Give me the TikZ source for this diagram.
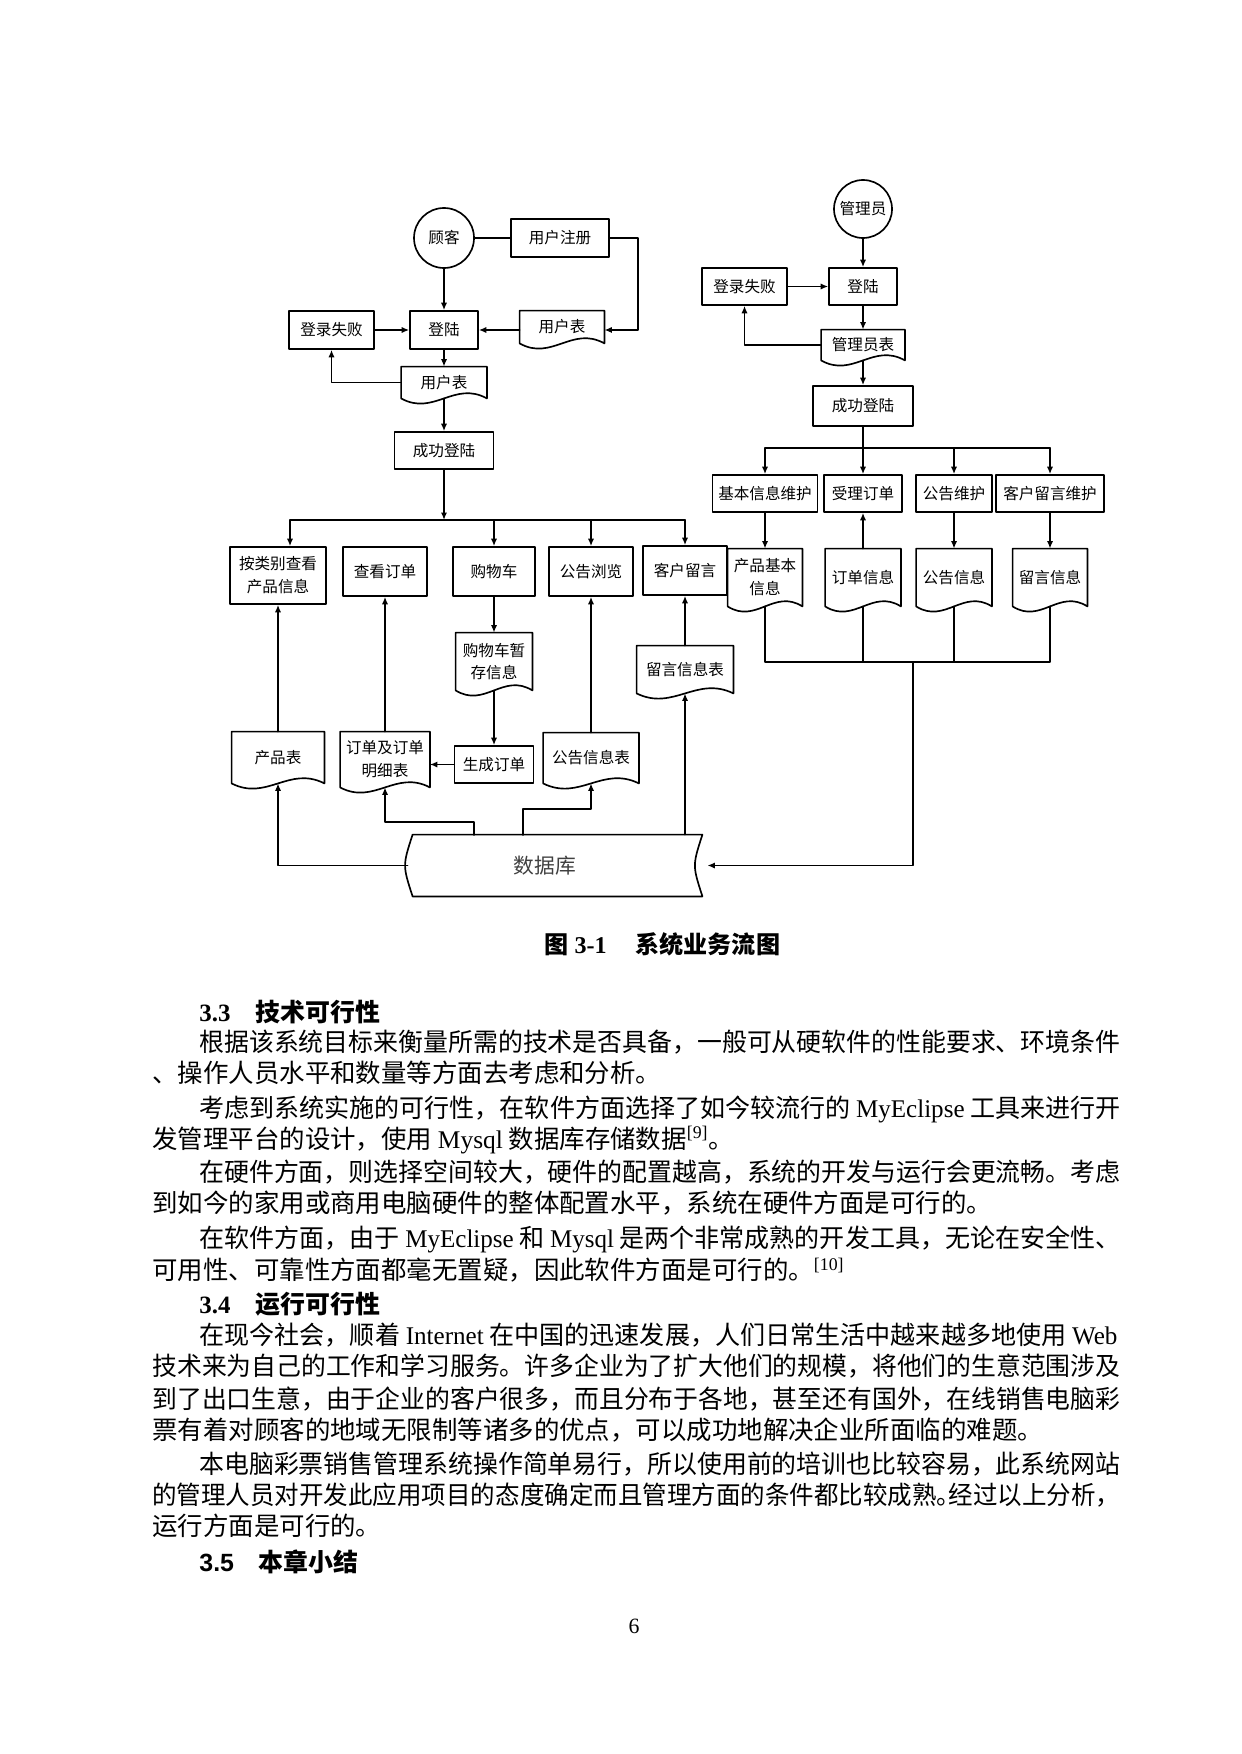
\documentclass[tikz,border=0pt]{standalone}
\usepackage{graphicx}
\usepackage{fontspec}
\setmainfont{Liberation Serif}
\setsansfont{Liberation Sans}
\newfontfamily\cjk{Noto Sans CJK SC}
\usetikzlibrary{arrows.meta,calc}

% one pixel of the page (A4 width = 1241 px)
\newlength\pxu
\setlength\pxu{0.016922cm}

\newcommand\latn[1]{{\rmfamily #1}}
\newcommand\dgm{\cjk\fontsize{7.5}{11}\selectfont}
\newcommand\bodyf{\cjk\fontsize{12.25}{15}\selectfont}
% a full line set to the measure
\newcommand\fitline[2]{\resizebox{#1\pxu}{\height}{#2}}

\tikzset{
  lnk/.style={line width=0.8pt},
  arr/.style={lnk, -{Latex[length=3.6pt,width=3pt]}},
  box/.style={draw, lnk, rectangle, inner sep=1pt, align=center, font=\dgm},
  doc/.style={rectangle, inner sep=1pt, align=center, font=\dgm},
  actor/.style={draw, lnk, circle, inner sep=0pt, minimum size=60\pxu, font=\dgm},
  bodyline/.style={anchor=west, inner sep=0pt, font=\bodyf},
  headline/.style={anchor=west, inner sep=0pt, font=\bfseries\fontsize{12}{15}\selectfont},
}

% document symbol (wavy bottom) round a named node
\newcommand\docout[1]{%
  \draw[lnk] (#1.south west) -- (#1.north west) -- (#1.north east) -- (#1.south east)
    .. controls ($(#1.south west)!0.62!(#1.south east)+(0,-18)$)
           and ($(#1.south west)!0.38!(#1.south east)+(0,18)$) .. (#1.south west);}

\begin{document}
\begin{tikzpicture}[x=1\pxu, y=-1\pxu, line cap=round, line join=round]
  \useasboundingbox (0,0) rectangle (1241,1754);

  % ---- customer side: login
  \node[actor] (gk) at (444,238) {顾客};
  \node[box, minimum width=98\pxu, minimum height=38\pxu] (zc) at (560,238) {用户注册};
  \node[box, minimum width=68\pxu, minimum height=38\pxu] (dl1) at (444,330) {登陆};
  \node[box, minimum width=85\pxu, minimum height=38\pxu] (sb1) at (331.5,330) {登录失败};
  \node[doc, minimum width=84\pxu, minimum height=32\pxu] (yhb1) at (562,327) {用户表};
  \node[doc, minimum width=85\pxu, minimum height=31\pxu] (yhb2) at (444,382.5) {用户表};
  \node[box, minimum width=99\pxu, minimum height=37\pxu] (cg1) at (444,450.5) {成功登陆};

  \draw[lnk] (gk.east) -- (zc.west);
  \draw[arr] (zc.east) -- ++(28,0) |- (yhb1.east |- dl1);
  \draw[arr] (yhb1.west |- dl1) -- (dl1.east);
  \draw[arr] (sb1.east) -- (dl1.west);
  \draw[arr] (gk.south) -- (dl1.north);
  \draw[arr] (dl1.south) -- (yhb2.north);
  \draw[arr] (yhb2.west) -| (sb1.south);
  \draw[arr] (yhb2.south) -- (cg1.north);

  % ---- customer menu
  \coordinate (bus1L) at (290,520);
  \coordinate (bus1R) at (685,520);
  \node[box, minimum width=96\pxu, minimum height=57\pxu] (b1) at (278,575.5) {按类别查看\\产品信息};
  \node[box, minimum width=84\pxu, minimum height=49\pxu] (b2) at (385,571.5) {查看订单};
  \node[box, minimum width=82\pxu, minimum height=49\pxu] (b3) at (494,571.5) {购物车};
  \node[box, minimum width=84\pxu, minimum height=49\pxu] (b4) at (591,571.5) {公告浏览};
  \node[box, minimum width=84\pxu, minimum height=49\pxu] (b5) at (685,570.5) {客户留言};

  \draw[arr] (cg1.south) -- (cg1.south |- bus1L);
  \draw[lnk] (bus1L) -- (bus1R);
  \draw[arr] (bus1L) -- (bus1L |- b1.north);
  \foreach \n in {b3,b4,b5}
    \draw[arr] (\n.north |- bus1L) -- (\n.north);

  % ---- tables under the menu
  \node[doc, minimum width=76\pxu, minimum height=57\pxu] (zcx) at (494,661.5) {购物车暂\\存信息};
  \node[box, minimum width=79\pxu, minimum height=37\pxu] (sc) at (494,764.5) {生成订单};
  \node[doc, minimum width=89\pxu, minimum height=55\pxu] (ddb) at (385,759.5) {订单及订单\\明细表};
  \node[doc, minimum width=92\pxu, minimum height=51\pxu] (cpb) at (278,757.5) {产品表};
  \node[doc, minimum width=95\pxu, minimum height=50\pxu] (ggb) at (591,758) {公告信息表};
  \node[doc, minimum width=96\pxu, minimum height=47\pxu] (lyb) at (685,669.5) {留言信息表};

  \draw[arr] (b3.south) -- (zcx.north);
  \draw[arr] (zcx.south) -- (sc.north);
  \draw[arr] (sc.west) -- (sc.west -| ddb.east);
  \draw[arr] (cpb.north) -- (b1.south);
  \draw[arr] (ddb.north) -- (b2.south);
  \draw[arr] (ggb.north) -- (b4.south);
  \draw[arr] (lyb.north) -- (b5.south);

  % ---- database (stored data symbol)
  \node[minimum width=294\pxu, minimum height=61\pxu, inner sep=0pt,
        font=\cjk\fontsize{10}{12}\selectfont, text=black!75] (db) at (555,865.5)
        {\hspace*{-20\pxu}数据库};
  \draw[lnk] ($(db.north west)+(5,0)$) -- (db.north east)
    .. controls ($(db.east)+(-10,0)$) .. (db.south east)
    -- ($(db.south west)+(5,0)$)
    .. controls ($(db.west)+(-5,0)$) .. cycle;

  \coordinate (dbt1) at (474,835);
  \coordinate (dbt2) at (523,835);
  \draw[arr] (db.west) -| (cpb.south);
  \draw[arr] (dbt1) -- ++(0,-13) -| (ddb.south);
  \draw[arr] (dbt2) -- ++(0,-26) -| (ggb.south);
  \draw[arr] (lyb.south |- db.north) -- (lyb.south);

  % ---- administrator side
  \node[actor, minimum size=58\pxu] (gly) at (863,209) {管理员};
  \node[box, minimum width=68\pxu, minimum height=37\pxu] (dl2) at (863,286.5) {登陆};
  \node[box, minimum width=85\pxu, minimum height=37\pxu] (sb2) at (744.5,286.5) {登录失败};
  \node[doc, minimum width=83\pxu, minimum height=30\pxu] (glb) at (863,345) {管理员表};
  \node[box, minimum width=100\pxu, minimum height=40\pxu] (cg2) at (863,406) {成功登陆};

  \draw[arr] (gly.south) -- (dl2.north);
  \draw[arr] (sb2.east) -- (dl2.west);
  \draw[arr] (dl2.south) -- (glb.north);
  \draw[arr] (glb.west) -| (sb2.south);
  \draw[arr] (glb.south) -- (cg2.north);

  % admin menu
  \coordinate (bus2L) at (765,448);
  \coordinate (bus2R) at (1050,448);
  \node[box, minimum width=105\pxu, minimum height=37\pxu] (jb) at (765,493.5) {基本信息维护};
  \node[box, minimum width=78\pxu, minimum height=37\pxu] (sl) at (863,493.5) {受理订单};
  \node[box, minimum width=76\pxu, minimum height=37\pxu] (gw) at (954,493.5) {公告维护};
  \node[box, minimum width=108\pxu, minimum height=37\pxu] (kw) at (1050,493.5) {客户留言维护};

  \draw[lnk] (cg2.south) -- (cg2.south |- bus2L);
  \draw[lnk] (bus2L) -- (bus2R);
  \foreach \n in {jb,sl,gw,kw}
    \draw[arr] (\n.north |- bus2L) -- (\n.north);

  \node[doc, minimum width=74\pxu, minimum height=57\pxu] (cpx) at (765,577.5) {产品基本\\信息};
  \node[doc, minimum width=75\pxu, minimum height=57\pxu] (ddx) at (863,577.5) {订单信息};
  \node[doc, minimum width=75\pxu, minimum height=57\pxu] (ggx) at (954,577.5) {公告信息};
  \node[doc, minimum width=74\pxu, minimum height=57\pxu] (lyx) at (1050,577.5) {留言信息};

  \draw[arr] (jb.south) -- (cpx.north);
  \draw[arr, {Latex[length=3.6pt,width=3pt]}-] (sl.south) -- (ddx.north);
  \draw[arr] (gw.south) -- (ggx.north);
  \draw[arr] (kw.south) -- (lyx.north);

  % info tables back to the database
  \coordinate (bus3) at (913,662);
  \draw[lnk] (cpx.south) |- (lyx.south |- bus3) -- (lyx.south);
  \foreach \n in {ddx,ggx}
    \draw[lnk] (\n.south) -- (\n.south |- bus3);
  \draw[arr, shorten >=5\pxu] (bus3) |- (db.east);

  % document outlines
  \foreach \n in {yhb1,yhb2,zcx,ddb,cpb,ggb,lyb,glb,cpx,ddx,ggx,lyx}
    \docout{\n};

  % ---- caption and body text
  \node[headline, font=\bfseries\fontsize{11.6}{14}\selectfont] (cap) at (544,944)
    {{\cjk 图} 3-1\hspace{1.2em}{\cjk 系统业务流图}};

  \node[headline] (h33) at (199,1012) {3.3\hspace{1em}{\cjk 技术可行性}};
  \node[bodyline] (p1) at (199,1042) {\fitline{921}{根据该系统目标来衡量所需的技术是否具备，一般可从硬软件的性能要求、环境条件}};
  \node[bodyline] (p2) at (152,1073) {、操作人员水平和数量等方面去考虑和分析。};
  \node[bodyline] (p3) at (199,1109) {\fitline{921}{考虑到系统实施的可行性，在软件方面选择了如今较流行的 \latn{MyEclipse} 工具来进行开}};
  \node[bodyline] (p4) at (152,1140) {发管理平台的设计，使用 \latn{Mysql} 数据库存储数据\latn{\textsuperscript{[9]}}。};
  \node[bodyline] (p5) at (199,1172) {\fitline{921}{在硬件方面，则选择空间较大，硬件的配置越高，系统的开发与运行会更流畅。考虑}};
  \node[bodyline] (p6) at (152,1203) {到如今的家用或商用电脑硬件的整体配置水平，系统在硬件方面是可行的。};
  \node[bodyline] (p7) at (199,1239) {\fitline{921}{在软件方面，由于 \latn{MyEclipse} 和 \latn{Mysql} 是两个非常成熟的开发工具，无论在安全性、}};
  \node[bodyline] (p8) at (152,1270) {可用性、可靠性方面都毫无置疑，因此软件方面是可行的。\latn{\textsuperscript{[10]}}};

  \node[headline] (h34) at (199,1304) {3.4\hspace{1em}{\cjk 运行可行性}};
  \node[bodyline] (p9) at (199,1335) {\fitline{918}{在现今社会，顺着 \latn{Internet} 在中国的迅速发展，人们日常生活中越来越多地使用 \latn{Web}}};
  \node[bodyline] (p10) at (152,1366) {\fitline{968}{技术来为自己的工作和学习服务。许多企业为了扩大他们的规模，将他们的生意范围涉及}};
  \node[bodyline] (p11) at (152,1399) {\fitline{968}{到了出口生意，由于企业的客户很多，而且分布于各地，甚至还有国外，在线销售电脑彩}};
  \node[bodyline] (p12) at (152,1430) {票有着对顾客的地域无限制等诸多的优点，可以成功地解决企业所面临的难题。};
  \node[bodyline] (p13) at (199,1464) {\fitline{921}{本电脑彩票销售管理系统操作简单易行，所以使用前的培训也比较容易，此系统网站}};
  \node[bodyline] (p14) at (152,1495) {\fitline{968}{的管理人员对开发此应用项目的态度确定而且管理方面的条件都比较成熟\makebox[0.5em][l]{。}经过以上分析，}};
  \node[bodyline] (p15) at (152,1526) {运行方面是可行的。};

  \node[headline, font=\sffamily\bfseries\fontsize{12}{15}\selectfont] (h35) at (199,1562) {3.5\hspace{1em}{\cjk 本章小结}};

  \node[font=\fontsize{10.5}{12}\selectfont] (pg) at (634,1626) {6};
\end{tikzpicture}
\end{document}
